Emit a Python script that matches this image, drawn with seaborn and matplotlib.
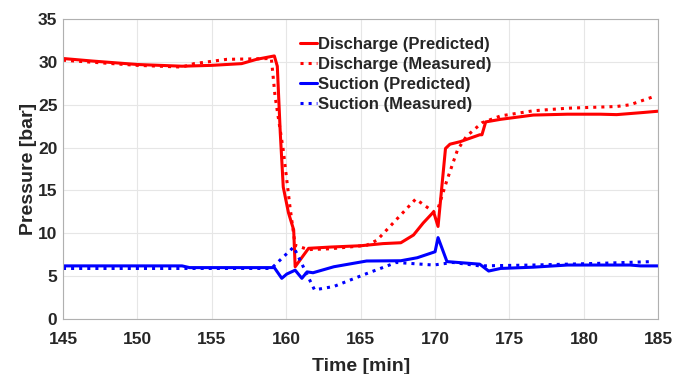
import numpy as np
import pandas as pd
import seaborn as sns
import matplotlib.pyplot as plt

# discharge, predicted
dp_t = [145, 147, 150, 153, 155, 157, 158, 159.2, 159.4, 159.6, 159.8, 160.15, 160.5, 160.6,
        161.5, 163, 165, 166.5, 167.7, 168.55, 169.2, 169.9, 170.2, 170.7, 171.0, 171.7, 173.0,
        173.15, 173.4, 174.4, 176.6, 178.9, 181.1, 182.2, 184, 185]
dp_p = [30.4, 30.1, 29.7, 29.5, 29.6, 29.8, 30.3, 30.7, 29.5, 21.7, 15.4, 12.4, 10.4, 6.1,
        8.25, 8.4, 8.55, 8.8, 8.9, 9.8, 11.2, 12.5, 10.8, 19.9, 20.4, 20.7, 21.5,
        21.5, 23.0, 23.3, 23.8, 23.9, 23.9, 23.85, 24.1, 24.25]

# discharge, measured
dm_t = [145, 150, 153, 153.8, 156, 159.0, 159.25, 159.8, 160.25, 160.6, 161.5, 163, 165.4,
        166.1, 168.7, 169.9, 170.2, 170.8, 171.5, 172.1, 173.15, 174.4, 176.6, 178.9, 182.2,
        183.1, 184.6]
dm_p = [30.2, 29.6, 29.4, 29.8, 30.3, 30.4, 26.0, 19.7, 13.1, 8.6, 8.1, 8.2, 8.6,
        9.2, 14.0, 12.5, 12.9, 16.2, 19.7, 21.3, 22.9, 23.7, 24.3, 24.6, 24.8,
        25.0, 25.9]

# suction, predicted
sp_t = [145, 153, 153.5, 159.2, 159.7, 160.04, 160.6, 161.05, 161.4, 161.8, 163.2, 165.4,
        167.7, 168.8, 170.0, 170.2, 170.8, 173.0, 173.6, 174.4, 176.6, 178.9, 183.1, 183.8, 185]
sp_p = [6.2, 6.2, 6.0, 6.0, 4.75, 5.25, 5.7, 4.75, 5.5, 5.4, 6.1, 6.77,
        6.8, 7.15, 7.85, 9.5, 6.7, 6.4, 5.6, 5.9, 6.05, 6.3, 6.3, 6.2, 6.2]

# suction, measured
sm_t = [145, 159.0, 160.5, 161.9, 163.2, 165.4, 167.4, 169.9, 171.2, 173.0, 176.6, 181.1, 184.6]
sm_p = [5.9, 5.9, 8.4, 3.4, 3.8, 5.3, 6.6, 6.3, 6.6, 6.2, 6.3, 6.5, 6.7]

x_ticks = [145, 150, 155, 160, 165, 170, 175, 180, 185]
y_ticks = [0, 5, 10, 15, 20, 25, 30, 35]

sns.set_style("white")
plt.rcParams['font.family'] = ['Liberation Sans', 'DejaVu Sans']
plt.rcParams['font.weight'] = 'bold'

fig = plt.figure(figsize=(6.75, 3.74), dpi=100)
ax = fig.add_axes([0.0933, 0.147, 0.882, 0.802])

series = [
    (dp_t, dp_p, 'red', '-', 'Discharge (Predicted)'),
    (dm_t, dm_p, 'red', ':', 'Discharge (Measured)'),
    (sp_t, sp_p, 'blue', '-', 'Suction (Predicted)'),
    (sm_t, sm_p, 'blue', ':', 'Suction (Measured)'),
]
for t, p, c, ls, lab in series:
    df = pd.DataFrame({'Time': t, 'Pressure': p})
    sns.lineplot(data=df, x='Time', y='Pressure', color=c, linestyle=ls, linewidth=2.2,
                 label=lab, ax=ax, sort=False)

ax.set_xlim(145, 185)
ax.set_ylim(0, 35)
ax.set_xticks(x_ticks)
ax.set_yticks(y_ticks)
ax.grid(True, color='#e6e6e6', linewidth=0.8)
ax.tick_params(direction='in', length=3, color='#999999', labelsize=12.5)
ax.tick_params(axis='x', pad=9)
ax.tick_params(axis='y', pad=4)
for s in ax.spines.values():
    s.set_color('#b0b0b0')
    s.set_linewidth(0.8)
ax.set_xlabel('Time [min]', fontsize=14, fontweight='bold', labelpad=8)
ax.set_ylabel('Pressure [bar]', fontsize=14, fontweight='bold', labelpad=1)

leg = ax.legend(loc='upper left', bbox_to_anchor=(0.398, 0.94), frameon=False,
                fontsize=12, handlelength=1.0, handletextpad=0.1, labelspacing=0.3,
                borderaxespad=0, borderpad=0)
for txt in leg.get_texts():
    txt.set_fontweight('bold')

fig.savefig('out.png', dpi=100)
